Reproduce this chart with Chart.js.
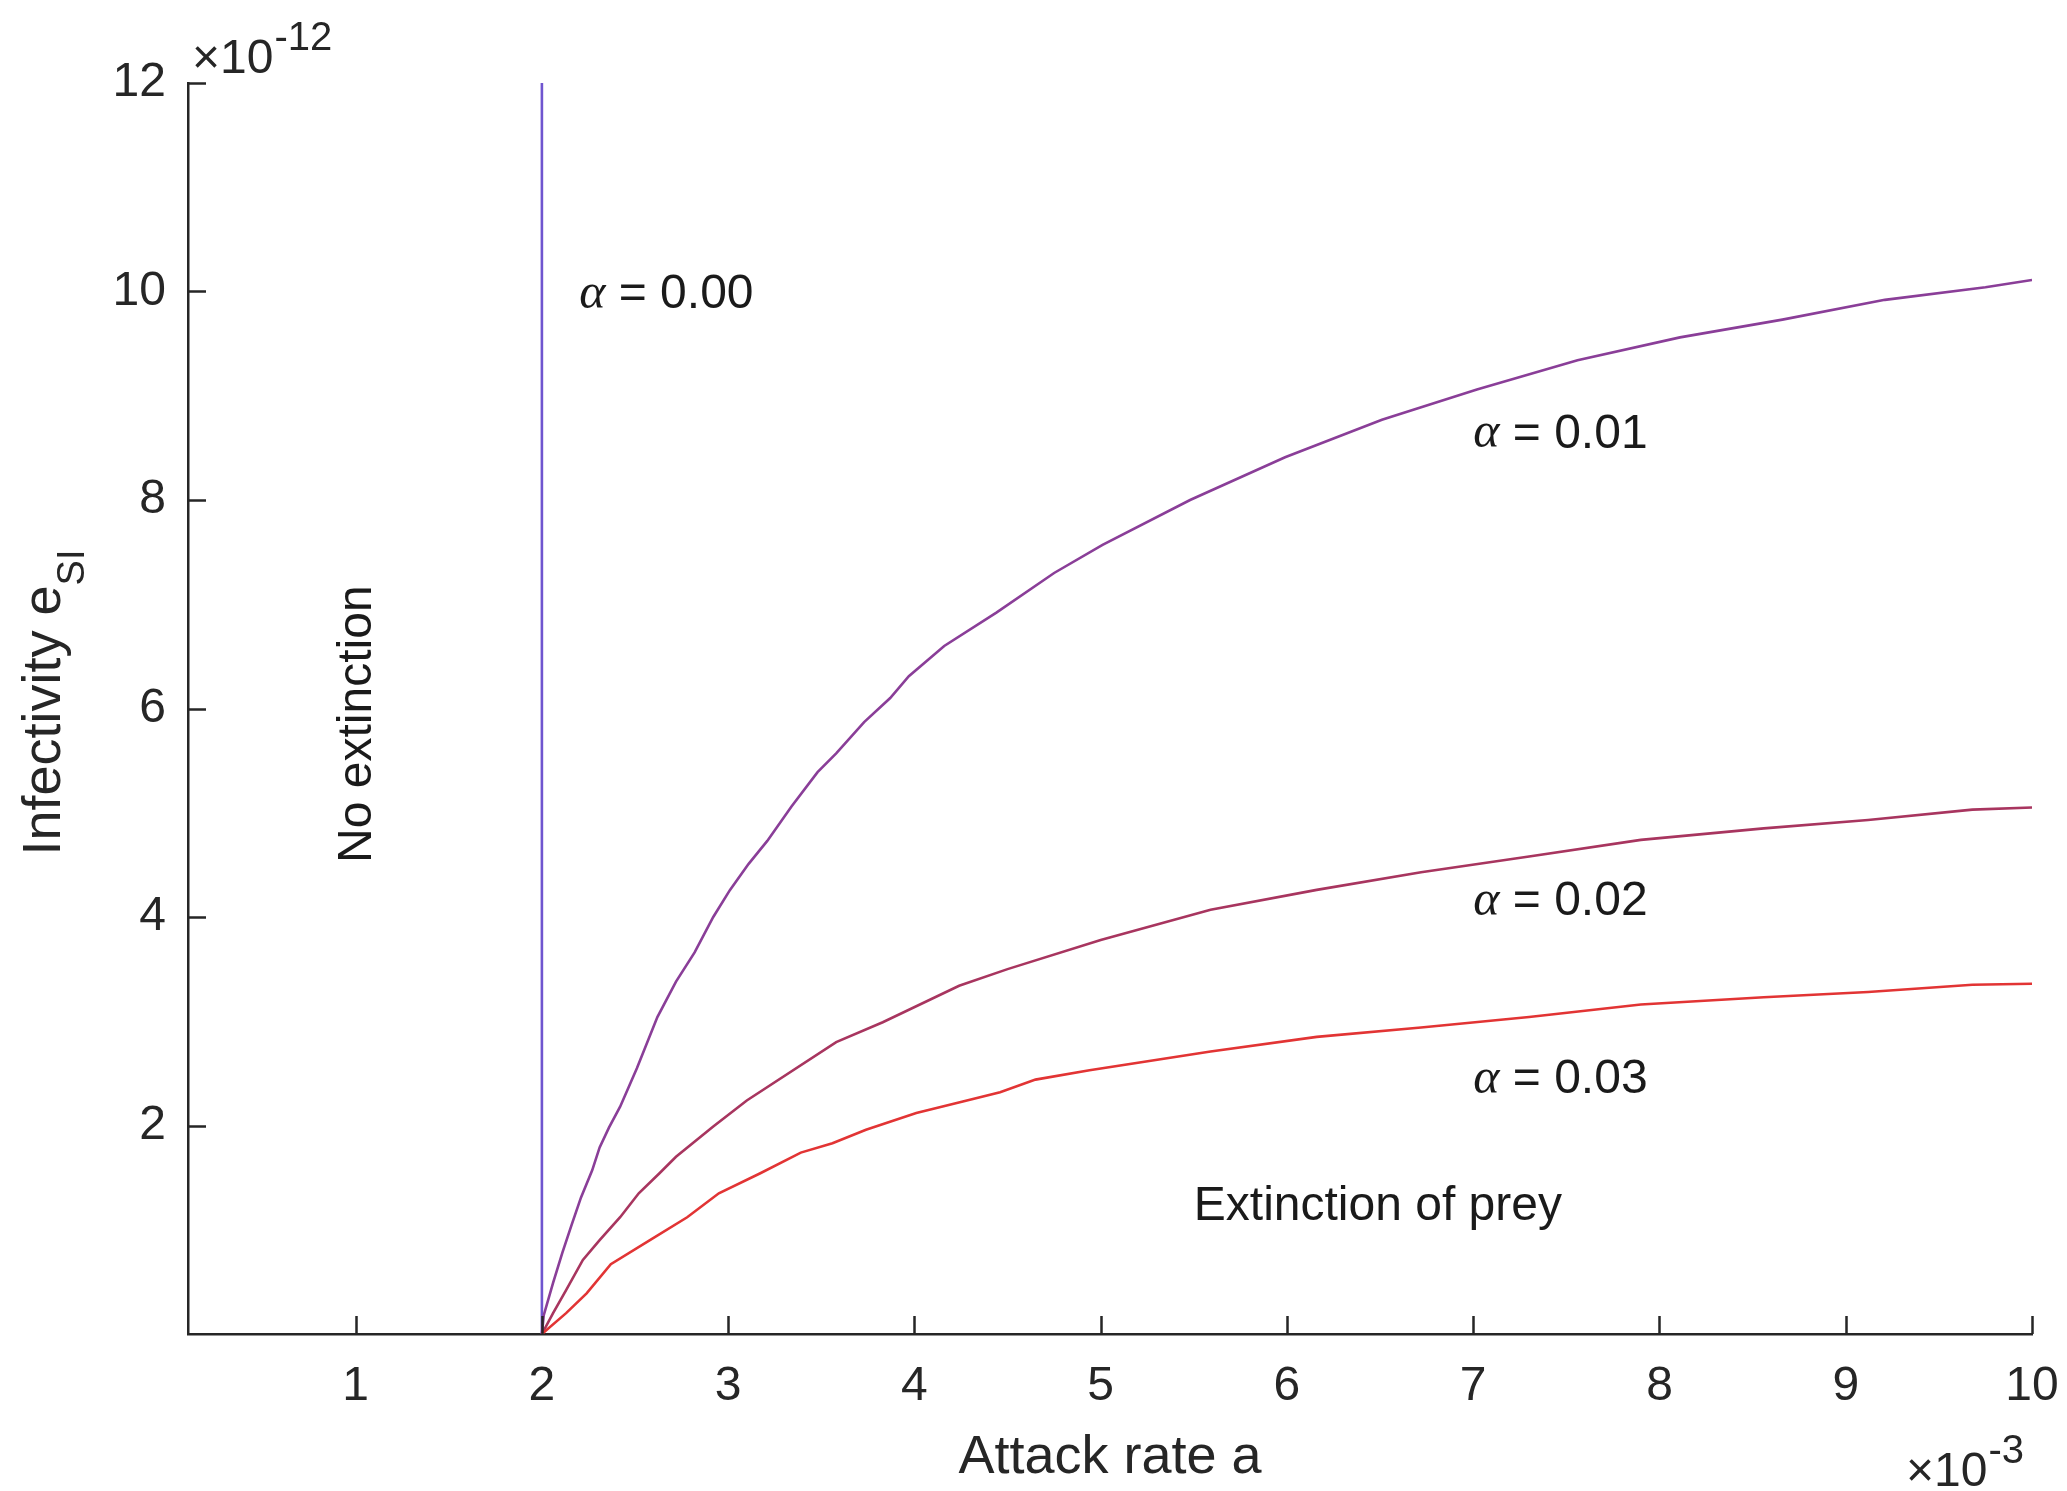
<!DOCTYPE html>
<html lang="en">
<head>
<meta charset="UTF-8">
<title>Infectivity vs attack rate</title>
<script src="https://cdn.jsdelivr.net/npm/chart.js"></script>
<style>
  html, body { margin: 0; padding: 0; background: #fff; }
  #wrap { width: 2067px; height: 1491px; }
</style>
</head>
<body>
<div id="wrap"><canvas id="chart" width="2067" height="1491"></canvas></div>
<script>
// attack rate a in units of 1e-3, infectivity e_SI in units of 1e-12
const a00 = [2.0, 2.0];
const e00 = [0, 12];

const a01 = [2.0, 2.01, 2.06, 2.11, 2.16, 2.21, 2.27, 2.31, 2.36, 2.42, 2.51, 2.62, 2.72, 2.82, 2.92, 3.01, 3.11, 3.21, 3.34, 3.48, 3.58, 3.73, 3.87, 3.97, 4.16, 4.44, 4.75, 5.01, 5.48, 5.99, 6.51, 7.02, 7.56, 8.11, 8.66, 9.21, 9.75, 10.0];
const e01 = [0.0, 0.18, 0.49, 0.78, 1.05, 1.31, 1.57, 1.79, 1.98, 2.18, 2.55, 3.04, 3.38, 3.66, 4.0, 4.26, 4.51, 4.73, 5.06, 5.39, 5.57, 5.87, 6.1, 6.31, 6.6, 6.92, 7.3, 7.57, 8.0, 8.41, 8.77, 9.06, 9.34, 9.56, 9.73, 9.92, 10.04, 10.11];

const a02 = [2.0, 2.06, 2.13, 2.22, 2.31, 2.42, 2.52, 2.63, 2.72, 2.92, 3.1, 3.58, 3.83, 4.24, 4.5, 5.0, 5.59, 6.16, 6.72, 7.3, 7.9, 8.56, 9.12, 9.68, 10.0];
const e02 = [0.0, 0.2, 0.42, 0.71, 0.9, 1.12, 1.35, 1.54, 1.70, 1.99, 2.24, 2.8, 2.99, 3.34, 3.5, 3.78, 4.07, 4.26, 4.43, 4.58, 4.74, 4.85, 4.93, 5.03, 5.05];

const a03 = [2.0, 2.13, 2.24, 2.37, 2.58, 2.78, 2.95, 3.17, 3.39, 3.56, 3.74, 4.01, 4.26, 4.46, 4.65, 4.94, 5.59, 6.16, 6.72, 7.3, 7.9, 8.56, 9.12, 9.68, 10.0];
const e03 = [0.0, 0.2, 0.39, 0.67, 0.9, 1.12, 1.35, 1.54, 1.74, 1.83, 1.96, 2.12, 2.23, 2.32, 2.44, 2.53, 2.71, 2.85, 2.94, 3.04, 3.16, 3.23, 3.28, 3.35, 3.36];

const xTicks = [1, 2, 3, 4, 5, 6, 7, 8, 9, 10];
const yTicks = [2, 4, 6, 8, 10, 12];

const alphaLabels = ['0.00', '0.01', '0.02', '0.03'];
const lineColors = ['#6f55cf', '#8a3e98', '#a8355f', '#e23434'];

const SANS = '"Liberation Sans", Arial, Helvetica, sans-serif';
const AXIS_COLOR = '#262626';

function pts(xs, ys) {
    return xs.map((x, i) => ({ x: x, y: ys[i] }));
}

// text placed in data coordinates
const notes = [
    { alpha: 0, x: 2.2, y: 9.97 },
    { alpha: 1, x: 7.0, y: 8.63 },
    { alpha: 2, x: 7.0, y: 4.15 },
    { alpha: 3, x: 7.0, y: 2.44 }
];

const decorations = {
    id: 'decorations',
    afterDatasetsDraw(chart) {
        const ctx = chart.ctx;
        const xs = chart.scales.x, ys = chart.scales.y;
        const area = chart.chartArea;
        ctx.save();

        // inward tick marks
        ctx.strokeStyle = AXIS_COLOR;
        ctx.lineWidth = 2.5;
        ctx.beginPath();
        xTicks.forEach(v => {
            const px = Math.round(xs.getPixelForValue(v)) + 0.5;
            ctx.moveTo(px, area.bottom);
            ctx.lineTo(px, area.bottom - 18);
        });
        yTicks.forEach(v => {
            const py = Math.round(ys.getPixelForValue(v)) + 0.5;
            ctx.moveTo(area.left, py);
            ctx.lineTo(area.left + 18, py);
        });
        ctx.stroke();

        // alpha labels
        ctx.fillStyle = '#1a1a1a';
        ctx.textBaseline = 'middle';
        ctx.textAlign = 'left';
        notes.forEach(n => {
            let px = xs.getPixelForValue(n.x);
            const py = ys.getPixelForValue(n.y);
            ctx.font = 'italic 50px "Liberation Serif", "Times New Roman", serif';
            ctx.fillText('\u03b1', px, py);
            px += ctx.measureText('\u03b1').width;
            ctx.font = '48px ' + SANS;
            ctx.fillText(' = ' + alphaLabels[n.alpha], px, py);
        });

        // region labels
        ctx.font = '48px ' + SANS;
        ctx.fillText('Extinction of prey', xs.getPixelForValue(5.5), ys.getPixelForValue(1.22));

        ctx.save();
        ctx.translate(xs.getPixelForValue(1.01), ys.getPixelForValue(5.85));
        ctx.rotate(-Math.PI / 2);
        ctx.textAlign = 'center';
        ctx.fillText('No extinction', 0, 0);
        ctx.restore();

        // y axis title with subscript
        ctx.save();
        ctx.fillStyle = AXIS_COLOR;
        ctx.textBaseline = 'alphabetic';
        ctx.font = '54px ' + SANS;
        const main = 'Infectivity e';
        const wMain = ctx.measureText(main).width;
        ctx.font = '38px ' + SANS;
        const wSub = ctx.measureText('SI').width;
        const cy = (area.top + area.bottom) / 2 - 6;
        ctx.translate(60, cy);
        ctx.rotate(-Math.PI / 2);
        const start = -(wMain + wSub) / 2;
        ctx.font = '54px ' + SANS;
        ctx.fillText(main, start, 0);
        ctx.font = '38px ' + SANS;
        ctx.fillText('SI', start + wMain, 24);
        ctx.restore();

        // exponent labels
        ctx.fillStyle = AXIS_COLOR;
        ctx.textBaseline = 'alphabetic';
        ctx.font = '48px ' + SANS;
        ctx.fillText('\u00d710', 192, 73);
        let w = ctx.measureText('\u00d710').width;
        ctx.font = '40px ' + SANS;
        ctx.fillText('-12', 192 + w + 1, 50);

        ctx.font = '48px ' + SANS;
        ctx.fillText('\u00d710', 1906, 1486);
        w = ctx.measureText('\u00d710').width;
        ctx.font = '40px ' + SANS;
        ctx.fillText('-3', 1906 + w + 1, 1463);

        ctx.restore();
    }
};

const series = [[a03, e03], [a02, e02], [a01, e01], [a00, e00]];
const colorIdx = [3, 2, 1, 0];

new Chart(document.getElementById('chart'), {
    type: 'line',
    data: {
        datasets: series.map((s, i) => ({
            label: '\u03b1 = ' + alphaLabels[colorIdx[i]],
            data: pts(s[0], s[1]),
            borderColor: lineColors[colorIdx[i]],
            borderWidth: 2.6,
            pointRadius: 0,
            tension: 0,
            fill: false
        }))
    },
    options: {
        responsive: false,
        animation: false,
        devicePixelRatio: 1,
        layout: { padding: { left: 0, top: 83, right: 35, bottom: 0 } },
        plugins: {
            legend: { display: false },
            tooltip: { enabled: false }
        },
        scales: {
            x: {
                type: 'linear',
                min: 0.1,
                max: 10,
                afterBuildTicks: s => { s.ticks = xTicks.map(v => ({ value: v })); },
                afterFit: s => { s.height = 157; s.paddingLeft = 0; s.paddingRight = 0; },
                grid: { display: true, drawOnChartArea: false, drawTicks: false },
                border: { display: true, color: AXIS_COLOR, width: 2.5 },
                ticks: {
                    padding: 24,
                    maxRotation: 0,
                    autoSkip: false,
                    color: AXIS_COLOR,
                    font: { family: SANS, size: 48 },
                    callback: v => String(v)
                },
                title: {
                    display: true,
                    text: 'Attack rate a',
                    color: AXIS_COLOR,
                    font: { family: SANS, size: 54 },
                    padding: { top: 0, bottom: 0 }
                }
            },
            y: {
                type: 'linear',
                min: 0,
                max: 12,
                afterBuildTicks: s => { s.ticks = yTicks.map(v => ({ value: v })); },
                afterFit: s => { s.width = 188; },
                grid: { display: true, drawOnChartArea: false, drawTicks: false },
                border: { display: true, color: AXIS_COLOR, width: 2.5 },
                ticks: {
                    padding: 22,
                    autoSkip: false,
                    color: AXIS_COLOR,
                    font: { family: SANS, size: 48 },
                    callback: v => String(v)
                }
            }
        }
    },
    plugins: [decorations]
});
</script>
</body>
</html>
